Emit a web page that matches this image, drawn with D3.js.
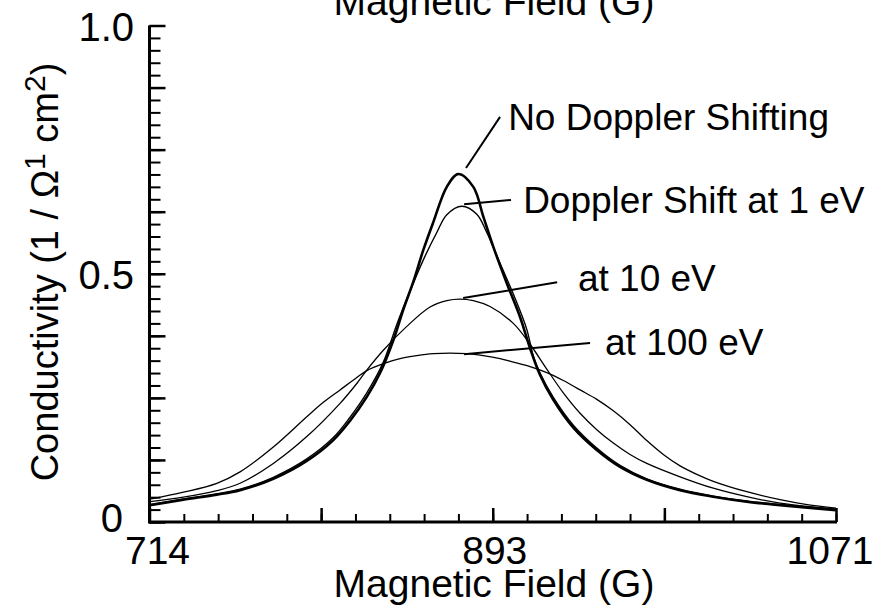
<!DOCTYPE html>
<html><head><meta charset="utf-8">
<script src="https://cdn.jsdelivr.net/npm/d3@7"></script>
<style>
body{margin:0;background:#fff}
svg{display:block}
text{font-family:"Liberation Sans",Arial,Helvetica,sans-serif;fill:#000}
</style>
</head><body>
<svg id="chart" width="894" height="608"></svg>
<script>
// ---- data (field in G, conductivity) ----
const xDomain = [714, 1071];
const yDomain = [0, 1];
const xTickLabels = ["714", "893", "1071"];
const xTickLabelValues = [714, 892.5, 1071];
const yTickLabels = ["0", "0.5", "1.0"];
const yTickLabelValues = [0, 0.5, 1.0];
const xTitle = "Magnetic Field (G)";

const noDoppler = [
  [714.3,0.034],[731.6,0.045],[749,0.055],[761.1,0.064],[778.4,0.087],[795.8,0.123],
  [809.6,0.165],[818.3,0.204],[827,0.252],[833.9,0.300],[840.8,0.366],
  [846,0.428],[851.2,0.484],[856.4,0.548],[861.6,0.604],[868.6,0.675],[874.6,0.701],
  [882.4,0.675],[887.6,0.615],[892.8,0.554],[899.8,0.481],[906.7,0.413],[911.9,0.350],
  [917.1,0.296],[924,0.246],[934.4,0.190],[946.6,0.145],[958.7,0.111],[972.6,0.085],
  [989.9,0.064],[1007.2,0.051],[1024.6,0.041],[1041.9,0.034],[1071,0.024]
];
const doppler1eV = [
  [714.3,0.035],[731.6,0.046],[749,0.057],[761.1,0.066],[778.4,0.090],[795.8,0.127],
  [809.6,0.170],[818.3,0.211],[827,0.260],[835.6,0.322],[842.6,0.398],
  [849.5,0.465],[856.4,0.528],[863.4,0.583],[868.6,0.619],[876.4,0.636],[884.2,0.620],
  [889.4,0.583],[896.3,0.521],[903.2,0.459],[910.2,0.388],[913.6,0.334],[917.1,0.300],
  [924,0.251],[934.4,0.195],[946.6,0.149],[958.7,0.114],[972.6,0.087],[989.9,0.066],
  [1007.2,0.052],[1024.6,0.042],[1041.9,0.035],[1071,0.025]
];
const doppler10eV = [
  [714.3,0.041],[731.6,0.050],[749,0.063],[761.1,0.078],[778.4,0.118],[795.8,0.172],
  [813.1,0.239],[821.8,0.279],[827,0.306],[835.6,0.346],[847.8,0.394],[859.9,0.433],
  [868.6,0.446],[875.5,0.449],[882.4,0.446],[891.1,0.434],[903.2,0.400],[911.9,0.358],
  [920.6,0.308],[929.2,0.260],[937.9,0.219],[946.6,0.186],[955.2,0.159],[963.9,0.136],
  [972.6,0.118],[989.9,0.091],[1007.2,0.068],[1024.6,0.051],[1041.9,0.038],[1071,0.026]
];
const doppler100eV = [
  [714.3,0.046],[731.6,0.060],[749,0.078],[761.1,0.101],[778.4,0.151],[795.8,0.212],
  [804.4,0.241],[813.1,0.266],[821.8,0.291],[827,0.305],[835.6,0.319],[844.3,0.329],
  [853,0.335],[861.6,0.339],[870.3,0.340],[878.9,0.339],[887.6,0.335],[896.3,0.329],
  [903.2,0.322],[911.9,0.313],[920.6,0.301],[929.2,0.285],[937.9,0.266],[946.6,0.247],
  [955.2,0.224],[963.9,0.196],[972.6,0.164],[981.2,0.136],[989.9,0.113],[998.6,0.096],
  [1007.2,0.082],[1024.6,0.061],[1041.9,0.045],[1056,0.035],[1071,0.028]
];
const seriesNames = ["No Doppler Shifting", "Doppler Shift at 1 eV", "at 10 eV", "at 100 eV"];
const seriesData = [noDoppler, doppler1eV, doppler10eV, doppler100eV];
// annotation leader lines (field, value) and text start (field, baseline value)
const labelLineFrom = [[878.6,0.713],[877.6,0.640],[877.1,0.451],[877.6,0.338]];
const labelLineTo   = [[896.3,0.816],[902.0,0.6485],[926.0,0.483],[943.1,0.3605]];
const labelTextAt   = [[900.5,0.790],[908.3,0.622],[936.8,0.465],[950.9,0.336]];

// ---- drawing ----
const svg = d3.select("#chart");
const x = d3.scaleLinear().domain(xDomain).range([149.5, 836]);
const y = d3.scaleLinear().domain(yDomain).range([522, 25.5]);

const strokeWidths = [2.6, 1.4, 1.3, 1.3];
const line = d3.line().x(d => x(d[0])).y(d => y(d[1])).curve(d3.curveCatmullRom.alpha(0.5));

svg.append("g").selectAll("path").data(seriesData).join("path")
  .attr("d", line).attr("fill", "none").attr("stroke", "#000")
  .attr("stroke-width", (d, i) => strokeWidths[i]).attr("stroke-linejoin", "round");

// axes (ticks point inward)
const xMajor = d3.range(0, 5).map(i => xDomain[0] + i * (xDomain[1] - xDomain[0]) / 4);
const xMinor = d3.range(0, 21).map(i => xDomain[0] + i * (xDomain[1] - xDomain[0]) / 20);
const yMajor = d3.range(0, 9).map(i => i * 0.125);
const yMinor = d3.range(0, 41).map(i => i * 0.025);

function styleAxis(g, w) {
  g.selectAll(".tick text").remove();
  g.selectAll(".tick line").attr("stroke", "#000").attr("stroke-width", w);
  g.select(".domain").remove();
}
svg.append("g").attr("transform", `translate(0,${y(0)})`)
  .call(d3.axisBottom(x).tickValues(xMinor).tickSizeInner(-8).tickSizeOuter(0)).call(g => styleAxis(g, 2));
svg.append("g").attr("transform", `translate(0,${y(0)})`)
  .call(d3.axisBottom(x).tickValues(xMajor).tickSizeInner(-14).tickSizeOuter(0)).call(g => styleAxis(g, 2.5));
svg.append("g").attr("transform", `translate(${x(xDomain[0])},0)`)
  .call(d3.axisLeft(y).tickValues(yMinor).tickSizeInner(-11).tickSizeOuter(0)).call(g => styleAxis(g, 2));
svg.append("g").attr("transform", `translate(${x(xDomain[0])},0)`)
  .call(d3.axisLeft(y).tickValues(yMajor).tickSizeInner(-16).tickSizeOuter(0)).call(g => styleAxis(g, 2.5));

// axis lines
svg.append("line").attr("x1", x(xDomain[0])).attr("x2", x(xDomain[1]) + 1)
  .attr("y1", y(0)).attr("y2", y(0)).attr("stroke", "#000").attr("stroke-width", 3);
svg.append("line").attr("x1", x(xDomain[0])).attr("x2", x(xDomain[0]))
  .attr("y1", y(0) + 1.5).attr("y2", y(1)).attr("stroke", "#000").attr("stroke-width", 3);

// tick labels
svg.append("g").selectAll("text").data(xTickLabels).join("text")
  .attr("x", (d, i) => x(xTickLabelValues[i]) + [8, 2, -6][i]).attr("y", 564)
  .attr("text-anchor", "middle").attr("font-size", 39).text(d => d);
svg.append("g").selectAll("text").data(yTickLabels).join("text")
  .attr("x", (d, i) => i === 0 ? 123 : 134)
  .attr("y", (d, i) => y(yTickLabelValues[i]) + (i === 0 ? 10 : 15))
  .attr("text-anchor", "end").attr("font-size", 40).text(d => d);

// axis titles
svg.append("text").attr("x", 494).attr("y", 597).attr("text-anchor", "middle")
  .attr("font-size", 39).text(xTitle);
svg.append("text").attr("x", 494).attr("y", 15).attr("text-anchor", "middle")
  .attr("font-size", 39).text(xTitle);

const yl = svg.append("text").attr("transform", "translate(58,272) rotate(-90)")
  .attr("text-anchor", "middle").attr("font-size", 38);
yl.append("tspan").text("Conductivity (1 / \u03A9");
yl.append("tspan").attr("dy", -13).attr("font-size", 30).text("1");
yl.append("tspan").attr("dy", 13).text(" cm");
yl.append("tspan").attr("dy", -13).attr("font-size", 30).text("2");
yl.append("tspan").attr("dy", 13).text(")");

// annotations
svg.append("g").selectAll("line").data(labelLineFrom).join("line")
  .attr("x1", d => x(d[0])).attr("y1", d => y(d[1]))
  .attr("x2", (d, i) => x(labelLineTo[i][0])).attr("y2", (d, i) => y(labelLineTo[i][1]))
  .attr("stroke", "#000").attr("stroke-width", 2);
svg.append("g").selectAll("text").data(seriesNames).join("text")
  .attr("x", (d, i) => x(labelTextAt[i][0])).attr("y", (d, i) => y(labelTextAt[i][1]))
  .attr("font-size", 37).text(d => d);
</script>
</body></html>
